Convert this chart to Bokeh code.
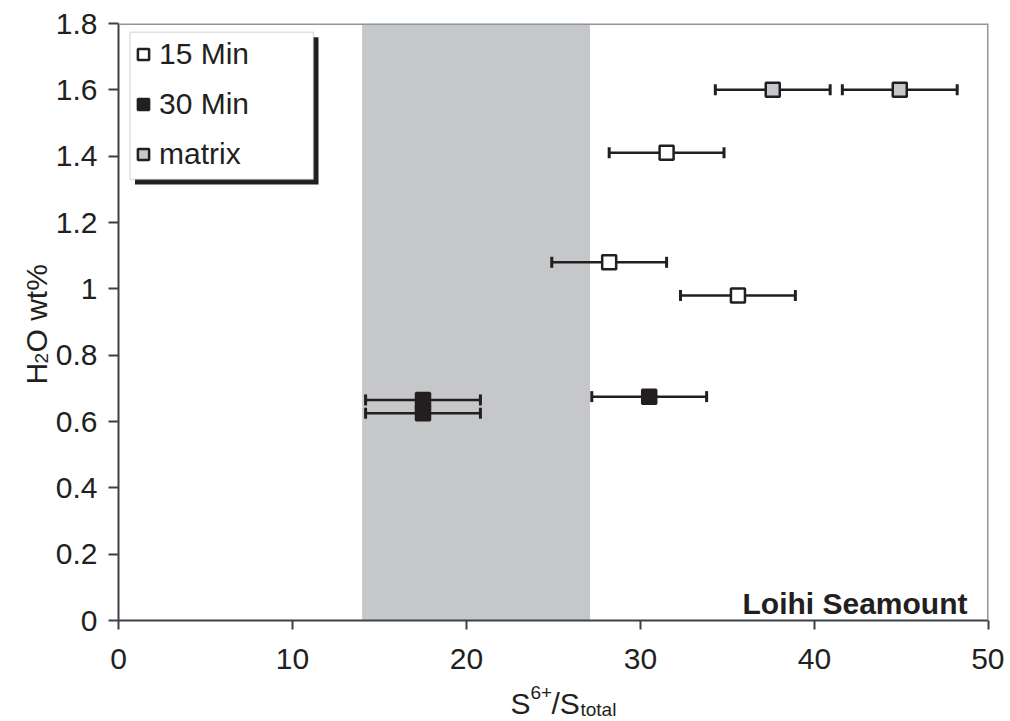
import math
from bokeh.plotting import figure
from bokeh.models import (Range1d, FixedTicker, Whisker, TeeHead, ColumnDataSource,
                          BoxAnnotation, Span, Label, Legend, LegendItem)
from bokeh.embed import file_html
from bokeh.resources import INLINE

# ---------------- data ----------------
series_names = ["15 Min", "30 Min", "matrix"]
min15_x = [31.5, 28.2, 35.6]
min15_y = [1.41, 1.08, 0.98]
min30_x = [17.5, 17.5, 30.5]
min30_y = [0.665, 0.625, 0.675]
matrix_x = [37.6, 44.9]
matrix_y = [1.60, 1.60]
x_err = 3.3
band_range = [14.0, 27.1]
x_ticks = [0, 10, 20, 30, 40, 50]
y_ticks = [0, 0.2, 0.4, 0.6, 0.8, 1.0, 1.2, 1.4, 1.6, 1.8]
y_tick_labels = ["0", "0.2", "0.4", "0.6", "0.8", "1", "1.2", "1.4", "1.6", "1.8"]
site_name = "Loihi Seamount"

# ---------------- layout ----------------
X0, X1 = 0, 50
Y0, Y1 = 0, 1.8
BL, BR, BT, BB = 118, 16, 23, 85
FW, FH = 870, 597
FONT = "Liberation Sans"
INK = "#231f20"
FS = "30px"
SUB = "19px"


def dx(px):
    """canvas pixel x -> data x (layout helper for annotations)"""
    return (px - BL) / FW * (X1 - X0) + X0


def dy(py):
    """canvas pixel y -> data y (layout helper for annotations)"""
    return (BT + FH - py) / FH * (Y1 - Y0) + Y0


p = figure(frame_width=FW, frame_height=FH, min_border_left=BL, min_border_right=BR,
           min_border_top=BT, min_border_bottom=BB,
           x_range=Range1d(X0, X1), y_range=Range1d(Y0, Y1),
           output_backend="svg", toolbar_location=None)
p.grid.visible = False
p.outline_line_color = None
p.background_fill_color = "white"
p.border_fill_color = "white"

# shaded band
p.add_layout(BoxAnnotation(left=band_range[0], right=band_range[1], fill_color="#c6c7c9",
                           fill_alpha=1.0, line_color=None, level="underlay"))

# frame top / right
p.add_layout(Span(location=Y1, dimension="width", line_color="#8d969d", line_width=3))
p.add_layout(Span(location=X1, dimension="height", line_color="#8d969d", line_width=3))


def add_series(xs, ys, fill):
    src = ColumnDataSource(dict(x=xs, y=ys,
                                lo=[v - x_err for v in xs], hi=[v + x_err for v in xs]))
    w = Whisker(source=src, base="y", lower="lo", upper="hi", dimension="width",
                line_color=INK, line_width=2.5, level="underlay",
                upper_head=TeeHead(size=11, line_color=INK, line_width=3),
                lower_head=TeeHead(size=11, line_color=INK, line_width=3))
    p.add_layout(w)
    return p.scatter("x", "y", source=src, marker="square", size=14, fill_color=fill,
                     line_color=INK, line_width=2.5)


r15 = add_series(min15_x, min15_y, "white")
r30 = add_series(min30_x, min30_y, INK)
rmx = add_series(matrix_x, matrix_y, "#c6c8cc")

# axes
for ax in (p.xaxis[0], p.yaxis[0]):
    ax.axis_line_color = "#3c4146"
    ax.axis_line_width = 2
    ax.major_tick_line_color = "#3c4146"
    ax.major_tick_line_width = 2
    ax.major_tick_in = 0
    ax.minor_tick_line_color = None
    ax.major_label_text_font = FONT
    ax.major_label_text_font_size = FS
    ax.major_label_text_color = INK
p.xaxis.ticker = FixedTicker(ticks=x_ticks)
p.yaxis.ticker = FixedTicker(ticks=y_ticks)
p.yaxis.major_label_overrides = {t: s for t, s in zip(y_ticks, y_tick_labels)}
p.xaxis.major_tick_out = 9
p.yaxis.major_tick_out = 10
p.xaxis.major_label_standoff = 19
p.yaxis.major_label_standoff = 11

# legend box with shadow
p.add_layout(BoxAnnotation(left=dx(134.5), right=dx(318), top=dy(36.7), bottom=dy(184),
                           fill_color=INK, fill_alpha=1, line_color=None))
p.add_layout(BoxAnnotation(left=dx(129.5), right=dx(313), top=dy(31.7), bottom=dy(179),
                           fill_color="white", fill_alpha=1, line_color="#8d969d", line_width=1.5))

legend = Legend(items=[LegendItem(label=n, renderers=[r]) for n, r in zip(series_names, [r15, r30, rmx])],
                location=(11, 449), orientation="vertical",
                glyph_width=28, glyph_height=28, label_height=34, spacing=16, padding=4,
                label_standoff=2, margin=0,
                label_text_font=FONT, label_text_font_size=FS, label_text_color=INK,
                border_line_color=None, background_fill_alpha=0)
p.add_layout(legend)

# site label
p.add_layout(Label(x=dx(967), y=dy(603), text=site_name, text_align="right",
                   text_baseline="alphabetic", text_font=FONT, text_font_size=FS,
                   text_font_style="bold", text_color=INK))

# axis titles drawn at canvas pixel positions; held in the lower side panel so that
# they are not clipped to the frame and do not widen the left border
xl = [("S", 510, 703, FS), ("6+", 530, 692, SUB), ("/S", 551, 703, FS), ("total", 580, 709, SUB)]
for t, px, py, fs in xl:
    p.add_layout(Label(x=px, y=py, x_units="canvas", y_units="canvas", text=t,
                       text_align="left", text_baseline="alphabetic",
                       text_font=FONT, text_font_size=fs, text_color=INK), "below")

yl = [("H", 36, 384, FS), ("2", 41, 363, SUB), ("O wt%", 36, 352, FS)]
for t, px, py, fs in yl:
    p.add_layout(Label(x=px, y=py, x_units="canvas", y_units="canvas", text=t,
                       angle=math.pi / 2, text_align="left",
                       text_baseline="alphabetic", text_font=FONT, text_font_size=fs,
                       text_color=INK), "below")

open("out.html", "w").write(file_html(p, INLINE))
